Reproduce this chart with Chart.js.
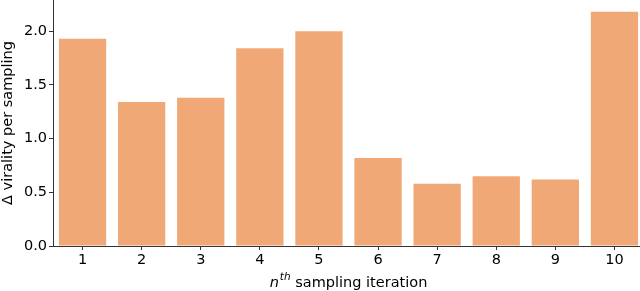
<!DOCTYPE html>
<html>
<head>
<meta charset="utf-8">
<script src="https://cdn.jsdelivr.net/npm/chart.js@4/dist/chart.umd.min.js"></script>
<style>
html,body{margin:0;padding:0;overflow:hidden;background:#fff;width:640px;height:291px;}
#wrap{width:644px;height:291px;}
</style>
</head>
<body>
<div id="wrap"><canvas id="c" width="644" height="291"></canvas></div>
<script>
const categories = ['1','2','3','4','5','6','7','8','9','10'];
const viralityDelta = [1.93, 1.34, 1.38, 1.84, 2.00, 0.82, 0.58, 0.65, 0.62, 2.18];
const yTicks = [0.0, 0.5, 1.0, 1.5, 2.0];
const xTitleBase = 'n';
const xTitleSup = 'th';
const xTitleRest = ' sampling iteration';
const yTitle = 'Δ virality per sampling';

const family = "'DejaVu Sans', sans-serif";
const font = {family: family, size: 14.5};
const axisColor = '#333333';

const xTitlePlugin = {
  id: 'xTitleMath',
  afterDraw(chart) {
    const ctx = chart.ctx;
    const area = chart.chartArea;
    const mainFont = 'italic 14.5px ' + family;
    const supFont = 'italic 10.5px ' + family;
    const restFont = '14.5px ' + family;
    ctx.save();
    ctx.fillStyle = '#000';
    ctx.textBaseline = 'alphabetic';
    ctx.textAlign = 'left';
    ctx.font = mainFont; const w1 = ctx.measureText(xTitleBase).width;
    ctx.font = supFont; const w2 = ctx.measureText(xTitleSup).width;
    ctx.font = restFont; const w3 = ctx.measureText(xTitleRest).width;
    const total = w1 + 1 + w2 + w3;
    let x = (area.left + area.right) / 2 - total / 2;
    const y = 287;
    ctx.font = mainFont; ctx.fillText(xTitleBase, x, y); x += w1 + 1;
    ctx.font = supFont; ctx.fillText(xTitleSup, x, y - 7); x += w2;
    ctx.font = restFont; ctx.fillText(xTitleRest, x, y);
    ctx.restore();
  }
};

new Chart(document.getElementById('c'), {
  type: 'bar',
  data: {
    labels: categories,
    datasets: [{
      data: viralityDelta,
      backgroundColor: 'rgb(240,168,118)',
      borderWidth: 0,
      categoryPercentage: 1.0,
      barPercentage: 0.8
    }]
  },
  plugins: [xTitlePlugin],
  options: {
    responsive: false,
    animation: false,
    devicePixelRatio: 1,
    layout: {padding: {left: 0, right: 0, top: 0, bottom: 0}},
    plugins: {legend: {display: false}, tooltip: {enabled: false}},
    scales: {
      x: {
        offset: true,
        grid: {display: true, drawOnChartArea: false, drawTicks: true, tickLength: 4, offset: false, color: axisColor},
        border: {display: true, color: axisColor, width: 1},
        ticks: {color: '#000', font: font, padding: 2, maxRotation: 0},
        title: {display: false},
        afterFit: s => { s.height = 45; s.paddingLeft = 0; s.paddingRight = 0; }
      },
      y: {
        min: 0,
        max: 2.29,
        afterBuildTicks: s => { s.ticks = yTicks.map(v => ({value: v})); },
        grid: {display: true, drawOnChartArea: false, drawTicks: true, tickLength: 4, color: axisColor},
        border: {display: true, color: axisColor, width: 1},
        ticks: {color: '#000', font: font, padding: 2, callback: v => Number(v).toFixed(1)},
        title: {display: true, text: yTitle, color: '#000', font: font, padding: {top: 0, bottom: 0}},
        afterFit: s => { s.width = 53; s.paddingTop = 0; s.paddingBottom = 0; }
      }
    }
  }
});
</script>
</body>
</html>
